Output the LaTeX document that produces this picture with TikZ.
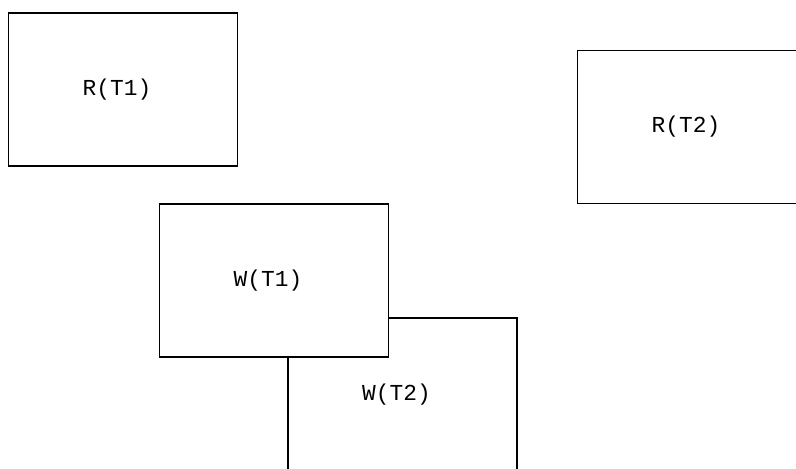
\documentclass[tikz,border=0pt]{standalone}
\usepackage{fontspec}
\newfontfamily\plotfont{Liberation Mono}
\usetikzlibrary{positioning}

\begin{document}
\begin{tikzpicture}[
    x=0.02cm, y=-0.02cm,
    opbox/.style={draw, line width=1pt, fill=white, minimum width=4.58cm,
                  minimum height=3.06cm, inner sep=0pt, font=\plotfont\fontsize{13}{15}\selectfont,
                  execute at end node={\kern0.24cm}}
]

% ============================================================
% page frame (reference is 796 x 468 px, y grows downward)
% ============================================================
\useasboundingbox (0,0) rectangle (796,468);
\clip (0,0) rectangle (796,468);

% ============================================================
% read operations
% ============================================================
\node[opbox] (rt1) at (123, 89.5) {R(T1)};
\node[opbox] (rt2) at (692, 127)  {R(T2)};

% ============================================================
% write operations (W(T1) lies over W(T2))
% ============================================================
\node[opbox] (wt2) at (402.5, 394.5) {W(T2)};
\node[opbox] (wt1) at (274, 280.5)   {W(T1)};

\end{tikzpicture}
\end{document}
